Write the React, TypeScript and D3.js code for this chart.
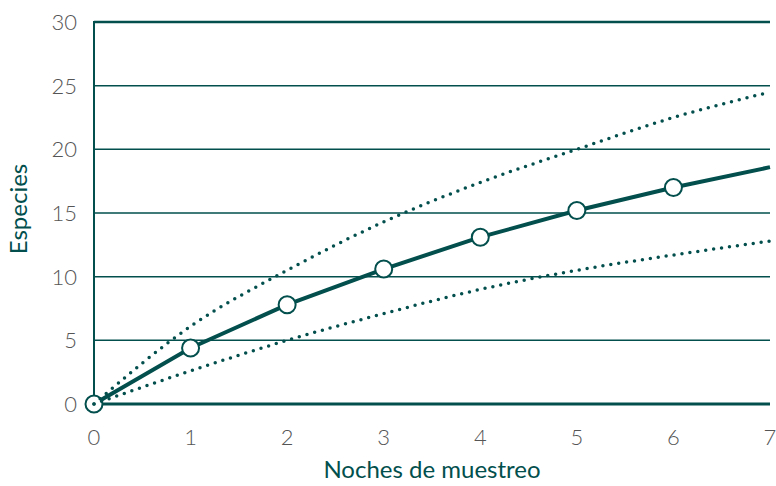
import React from "react";
import * as d3 from "d3";

const nights = [0, 1, 2, 3, 4, 5, 6, 7];
const species = [0, 4.4, 7.8, 10.6, 13.1, 15.2, 17.0, 18.6];
const upper = [0, 6.1, 10.5, 14.3, 17.4, 20.0, 22.5, 24.5];
const lower = [0, 2.6, 5.0, 7.1, 9.0, 10.5, 11.7, 12.8];
const markerNights = [0, 1, 2, 3, 4, 5, 6];
const yTicks = [0, 5, 10, 15, 20, 25, 30];
const xTicks = [0, 1, 2, 3, 4, 5, 6, 7];

const W = 776, H = 486;
const M = { left: 94, right: 6, top: 22, bottom: 82 };
const C = "#024f4d";

export default function App() {
  const x = d3.scaleLinear().domain([0, 7]).range([M.left, W - M.right]);
  const y = d3.scaleLinear().domain([0, 30]).range([H - M.bottom, M.top]);
  const smooth = d3
    .line<number>()
    .x((_, i) => x(nights[i]))
    .y((d) => y(d))
    .curve(d3.curveMonotoneX);
  const straight = d3
    .line<number>()
    .x((_, i) => x(nights[i]))
    .y((d) => y(d));
  return (
    <svg width={W} height={H} style={{ position: "absolute", left: 0, top: 0 }}>
      {yTicks.map((t) => (
        <line
          key={"g" + t}
          x1={x(0)}
          x2={x(7)}
          y1={y(t)}
          y2={y(t)}
          stroke={C}
          strokeWidth={t === 0 ? 3 : t === 30 ? 2.5 : 1.5}
        />
      ))}
      <line x1={x(0)} x2={x(0)} y1={y(30) - 1} y2={y(0)} stroke={C} strokeWidth={2} />
      {yTicks.map((t) => (
        <text
          key={"y" + t}
          x={77}
          y={y(t)}
          dy="0.36em"
          textAnchor="end"
          fontFamily="Lato"
          fontWeight={300}
          fontSize={22}
          fill="#555"
        >
          {t}
        </text>
      ))}
      {xTicks.map((t) => (
        <text
          key={"x" + t}
          x={x(t)}
          y={437}
          dy="0.36em"
          textAnchor="middle"
          fontFamily="Lato"
          fontWeight={300}
          fontSize={22}
          fill="#555"
        >
          {t}
        </text>
      ))}
      <path d={straight(species) || ""} fill="none" stroke={C} strokeWidth={4} />
      {markerNights.map((n) => (
        <circle key={"c" + n} cx={x(n)} cy={y(species[n])} r={8.5} fill="#fff" stroke={C} strokeWidth={2} />
      ))}
      <path d={smooth(upper) || ""} fill="none" stroke={C} strokeWidth={3.5} strokeLinecap="round" strokeDasharray="0 8" />
      <path d={smooth(lower) || ""} fill="none" stroke={C} strokeWidth={3.5} strokeLinecap="round" strokeDasharray="0 8" />
      <text
        x={(x(0) + x(7)) / 2}
        y={478}
        textAnchor="middle"
        fontFamily="Lato"
        fontSize={24}
        fill={C}
      >
        Noches de muestreo
      </text>
      <text
        transform={`translate(27,${209}) rotate(-90)`}
        textAnchor="middle"
        fontFamily="Lato"
        fontSize={24}
        fill={C}
      >
        Especies
      </text>
    </svg>
  );
}
